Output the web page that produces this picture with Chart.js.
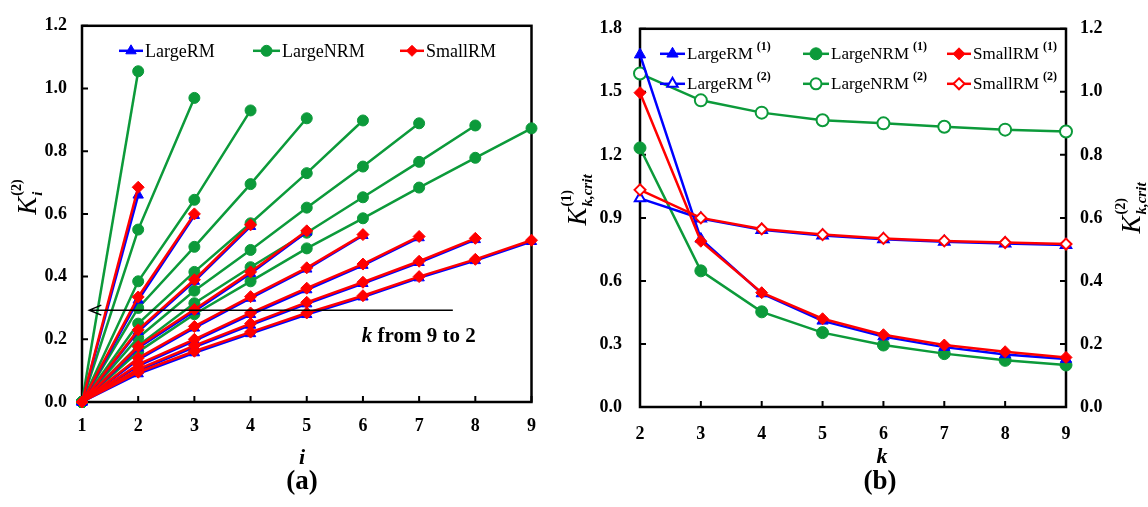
<!DOCTYPE html>
<html>
<head>
<meta charset="utf-8">
<script src="https://cdn.jsdelivr.net/npm/chart.js@4.4.1/dist/chart.umd.min.js"></script>
<style>
  html, body { margin: 0; padding: 0; background: #fff; }
  #wrap { position: relative; width: 1148px; height: 507px; background: #fff; }
  canvas { position: absolute; top: 0; }
  #chartA { left: 0; }
  #chartB { left: 550px; }
</style>
</head>
<body>
<div id="wrap">
  <canvas id="chartA" width="550" height="507"></canvas>
  <canvas id="chartB" width="598" height="507"></canvas>
</div>
<script>
// Panel (a): K_i^(2) against i, one line per k (k = 2..9)
const kValues = [2, 3, 4, 5, 6, 7, 8, 9];
const largeNRM_a = [
    [0, 1.055],
    [0, 0.55, 0.97],
    [0, 0.385, 0.645, 0.93],
    [0, 0.30, 0.495, 0.695, 0.905],
    [0, 0.25, 0.415, 0.57, 0.73, 0.898],
    [0, 0.205, 0.355, 0.485, 0.62, 0.751, 0.889],
    [0, 0.18, 0.315, 0.43, 0.54, 0.653, 0.766, 0.882],
    [0, 0.16, 0.28, 0.385, 0.49, 0.586, 0.684, 0.779, 0.873]
];
const smallRM_a = [
    [0, 0.685],
    [0, 0.335, 0.60],
    [0, 0.23, 0.39, 0.565],
    [0, 0.177, 0.295, 0.415, 0.546],
    [0, 0.14, 0.241, 0.336, 0.428, 0.534],
    [0, 0.12, 0.20, 0.284, 0.363, 0.44, 0.528],
    [0, 0.105, 0.18, 0.25, 0.318, 0.382, 0.449, 0.522],
    [0, 0.095, 0.162, 0.223, 0.284, 0.339, 0.40, 0.455, 0.516]
];
const largeRM_a = [
    [0, 0.66],
    [0, 0.325, 0.595],
    [0, 0.225, 0.385, 0.56],
    [0, 0.172, 0.29, 0.41, 0.542],
    [0, 0.135, 0.236, 0.331, 0.424, 0.531],
    [0, 0.115, 0.195, 0.279, 0.358, 0.436, 0.524],
    [0, 0.10, 0.175, 0.245, 0.313, 0.378, 0.445, 0.518],
    [0, 0.09, 0.157, 0.218, 0.279, 0.335, 0.396, 0.451, 0.512]
];

// Panel (b): critical values against k
const largeRM_1 = [1.677, 0.80, 0.54, 0.41, 0.335, 0.285, 0.25, 0.228];
const largeNRM_1 = [1.233, 0.648, 0.453, 0.354, 0.295, 0.254, 0.222, 0.20];
const smallRM_1 = [1.496, 0.789, 0.544, 0.42, 0.344, 0.295, 0.263, 0.236];
const largeRM_2 = [0.662, 0.598, 0.562, 0.544, 0.532, 0.524, 0.519, 0.514];
const largeNRM_2 = [1.058, 0.973, 0.934, 0.91, 0.90, 0.889, 0.88, 0.874];
const smallRM_2 = [0.689, 0.60, 0.565, 0.547, 0.535, 0.527, 0.522, 0.517];

const blue = "#0000ff";
const green = "#0c9a3a";
const red = "#ff0000";
const serif = '"Liberation Serif", "Times New Roman", serif';
const tickFont = { family: serif, size: 18, weight: 'bold' };

// draw a marker like Chart.js does (for the hand-drawn legends)
const drawMarker = (ctx, style, x, y, r, color, open) => {
    ctx.beginPath();
    if (style === 'triangle') {
        const h = r * Math.sqrt(3) / 2;
        ctx.moveTo(x, y - r);
        ctx.lineTo(x + h, y + r / 2);
        ctx.lineTo(x - h, y + r / 2);
        ctx.closePath();
    } else if (style === 'rectRot') {
        ctx.moveTo(x, y - r);
        ctx.lineTo(x + r, y);
        ctx.lineTo(x, y + r);
        ctx.lineTo(x - r, y);
        ctx.closePath();
    } else {
        ctx.arc(x, y, r, 0, Math.PI * 2);
    }
    ctx.fillStyle = open ? '#fff' : color;
    ctx.fill();
    ctx.strokeStyle = color;
    ctx.lineWidth = open ? 2 : 1;
    ctx.stroke();
};

const drawLegendItem = (ctx, item, x, y, fontSize) => {
    ctx.strokeStyle = item.color;
    ctx.lineWidth = 2.5;
    ctx.beginPath();
    ctx.moveTo(x, y);
    ctx.lineTo(x + item.lineLen, y);
    ctx.stroke();
    drawMarker(ctx, item.style, x + item.lineLen / 2, y, item.r, item.color, item.open);
    ctx.fillStyle = '#000';
    ctx.font = fontSize + 'px ' + serif;
    ctx.textAlign = 'left';
    ctx.textBaseline = 'middle';
    ctx.fillText(item.text, x + item.lineLen + 2, y + 1);
    if (item.sup) {
        const w = ctx.measureText(item.text).width;
        ctx.font = 'bold 12px ' + serif;
        ctx.fillText(item.sup, x + item.lineLen + 6 + w, y - 7);
    }
};

// rotated axis title K with superscript and subscript
const drawKLabel = (ctx, cx, cy, sup, sub) => {
    ctx.save();
    ctx.translate(cx, cy);
    ctx.rotate(-Math.PI / 2);
    const bigFont = 'italic 27px ' + serif;
    const supFont = 'bold 14px ' + serif;
    const subFont = 'italic bold 15px ' + serif;
    ctx.font = bigFont;
    const wK = ctx.measureText('K').width;
    ctx.font = supFont;
    const wSup = ctx.measureText(sup).width;
    ctx.font = subFont;
    const wSub = ctx.measureText(sub).width;
    const x0 = -(wK + 1 + Math.max(wSup, wSub)) / 2;
    ctx.fillStyle = '#000';
    ctx.textAlign = 'left';
    ctx.textBaseline = 'alphabetic';
    ctx.font = bigFont;
    ctx.fillText('K', x0, 9);
    ctx.font = supFont;
    ctx.fillText(sup, x0 + wK + 1, -6);
    ctx.font = subFont;
    ctx.fillText(sub, x0 + wK + 1, 15);
    ctx.restore();
};

// box round the plot area, with tick marks pointing inwards
const insideFrame = {
    id: 'insideFrame',
    beforeDatasetsDraw(chart) {
        const { ctx, chartArea: a } = chart;
        ctx.save();
        ctx.strokeStyle = '#000';
        ctx.lineWidth = 2.5;
        ctx.strokeRect(a.left, a.top, a.right - a.left, a.bottom - a.top);
        ctx.lineWidth = 2;
        ctx.beginPath();
        Object.values(chart.scales).forEach(s => {
            s.ticks.forEach(t => {
                const p = s.getPixelForValue(t.value);
                if (s.axis === 'x') {
                    ctx.moveTo(p, a.bottom);
                    ctx.lineTo(p, a.bottom - 6);
                } else if (s.position === 'left') {
                    ctx.moveTo(a.left, p);
                    ctx.lineTo(a.left + 6, p);
                } else {
                    ctx.moveTo(a.right, p);
                    ctx.lineTo(a.right - 6, p);
                }
            });
        });
        ctx.stroke();
        ctx.restore();
    }
};

const lineSet = (label, values, xStart, color, style, radius, order, open, axis) => ({
    label: label,
    data: values.map((v, i) => ({ x: xStart[i], y: v })),
    borderColor: color,
    backgroundColor: open ? '#fff' : color,
    pointBackgroundColor: open ? '#fff' : color,
    pointBorderColor: color,
    pointBorderWidth: open ? 2 : 1,
    pointStyle: style,
    pointRadius: radius,
    borderWidth: 2.5,
    tension: 0,
    clip: false,
    order: order,
    yAxisID: axis || 'y'
});

const iIndex = [1, 2, 3, 4, 5, 6, 7, 8, 9];

// Panel (a)
const datasetsA = [];
kValues.forEach((k, n) => {
    datasetsA.push(lineSet('SmallRM', smallRM_a[n], iIndex, red, 'rectRot', 6, 0));
    datasetsA.push(lineSet('LargeRM', largeRM_a[n], iIndex, blue, 'triangle', 6, 1));
    datasetsA.push(lineSet('LargeNRM', largeNRM_a[n], iIndex, green, 'circle', 5.5, 2));
});

const panelATexts = {
    id: 'panelATexts',
    afterDraw(chart) {
        const { ctx, chartArea: a, scales } = chart;
        ctx.save();
        drawKLabel(ctx, 27, 197, '(2)', 'i');

        ctx.fillStyle = '#000';
        ctx.textAlign = 'center';
        ctx.textBaseline = 'middle';
        ctx.font = 'italic bold 22px ' + serif;
        ctx.fillText('i', 302, 458);
        ctx.font = 'bold 27px ' + serif;
        ctx.fillText('(a)', 302, 482);

        // arrow: k from 9 to 2
        const ay = scales.y.getPixelForValue(0.293);
        const x1 = scales.x.getPixelForValue(7.6);
        const x0 = scales.x.getPixelForValue(1.13);
        ctx.strokeStyle = '#000';
        ctx.lineWidth = 1.5;
        ctx.beginPath();
        ctx.moveTo(x1, ay);
        ctx.lineTo(x0, ay);
        ctx.moveTo(x0 + 12, ay - 5);
        ctx.lineTo(x0, ay);
        ctx.lineTo(x0 + 12, ay + 5);
        ctx.stroke();

        const tx = scales.x.getPixelForValue(5.98);
        const ty = scales.y.getPixelForValue(0.21);
        ctx.textAlign = 'left';
        ctx.font = 'italic bold 21px ' + serif;
        ctx.fillText('k', tx, ty);
        const wk = ctx.measureText('k ').width;
        ctx.font = 'bold 21px ' + serif;
        ctx.fillText('from 9 to 2', tx + wk, ty);

        const legendA = [
            { dx: 37, text: 'LargeRM', color: blue, style: 'triangle', r: 6, lineLen: 24 },
            { dx: 171, text: 'LargeNRM', color: green, style: 'circle', r: 5.5, lineLen: 27 },
            { dx: 318, text: 'SmallRM', color: red, style: 'rectRot', r: 5.5, lineLen: 24 }
        ];
        legendA.forEach(item => drawLegendItem(ctx, item, a.left + item.dx, a.top + 25, 18));
        ctx.restore();
    }
};

new Chart(document.getElementById('chartA'), {
    type: 'line',
    data: { datasets: datasetsA },
    options: {
        responsive: false,
        animation: false,
        devicePixelRatio: 1,
        layout: { autoPadding: false, padding: { left: 0, top: 8, right: 18, bottom: 0 } },
        plugins: { legend: { display: false }, tooltip: { enabled: false } },
        scales: {
            x: {
                type: 'linear', min: 1, max: 9,
                grid: { display: false, drawTicks: false },
                border: { display: false },
                ticks: { stepSize: 1, padding: 14, color: '#000', font: tickFont },
                afterFit: (s) => { s.height = 105; }
            },
            y: {
                min: 0, max: 1.2,
                grid: { display: false, drawTicks: false },
                border: { display: false },
                ticks: { stepSize: 0.2, padding: 15, color: '#000', font: tickFont,
                    callback: (v) => v.toFixed(1) },
                afterFit: (s) => { s.width = 82; }
            }
        }
    },
    plugins: [insideFrame, panelATexts]
});

// Panel (b)
const datasetsB = [
    lineSet('SmallRM (1)', smallRM_1, kValues, red, 'rectRot', 6, 0, false, 'y'),
    lineSet('SmallRM (2)', smallRM_2, kValues, red, 'rectRot', 5.5, 0, true, 'y2'),
    lineSet('LargeRM (1)', largeRM_1, kValues, blue, 'triangle', 6.5, 1, false, 'y'),
    lineSet('LargeRM (2)', largeRM_2, kValues, blue, 'triangle', 6, 1, true, 'y2'),
    lineSet('LargeNRM (1)', largeNRM_1, kValues, green, 'circle', 6, 2, false, 'y'),
    lineSet('LargeNRM (2)', largeNRM_2, kValues, green, 'circle', 6, 2, true, 'y2')
];

const panelBTexts = {
    id: 'panelBTexts',
    afterDraw(chart) {
        const { ctx, chartArea: a } = chart;
        ctx.save();
        drawKLabel(ctx, 27, 200, '(1)', 'k,crit');
        drawKLabel(ctx, 581, 208, '(2)', 'k,crit');

        ctx.fillStyle = '#000';
        ctx.textAlign = 'center';
        ctx.textBaseline = 'middle';
        ctx.font = 'italic bold 22px ' + serif;
        ctx.fillText('k', 332, 457);
        ctx.font = 'bold 27px ' + serif;
        ctx.fillText('(b)', 330, 482);

        const legendB = [
            { dx: 20, dy: 25, text: 'LargeRM', sup: '(1)', color: blue, style: 'triangle', r: 6.5, lineLen: 25 },
            { dx: 163, dy: 25, text: 'LargeNRM', sup: '(1)', color: green, style: 'circle', r: 6, lineLen: 26 },
            { dx: 307, dy: 25, text: 'SmallRM', sup: '(1)', color: red, style: 'rectRot', r: 6, lineLen: 24 },
            { dx: 20, dy: 55, text: 'LargeRM', sup: '(2)', color: blue, style: 'triangle', r: 6, lineLen: 25, open: true },
            { dx: 163, dy: 55, text: 'LargeNRM', sup: '(2)', color: green, style: 'circle', r: 5.5, lineLen: 26, open: true },
            { dx: 307, dy: 55, text: 'SmallRM', sup: '(2)', color: red, style: 'rectRot', r: 5.5, lineLen: 24, open: true }
        ];
        legendB.forEach(item => drawLegendItem(ctx, item, a.left + item.dx, a.top + item.dy, 17));
        ctx.restore();
    }
};

new Chart(document.getElementById('chartB'), {
    type: 'line',
    data: { datasets: datasetsB },
    options: {
        responsive: false,
        animation: false,
        devicePixelRatio: 1,
        layout: { autoPadding: false, padding: { left: 0, top: 8, right: 0, bottom: 0 } },
        plugins: { legend: { display: false }, tooltip: { enabled: false } },
        scales: {
            x: {
                type: 'linear', min: 2, max: 9,
                grid: { display: false, drawTicks: false },
                border: { display: false },
                ticks: { stepSize: 1, padding: 17, color: '#000', font: tickFont },
                afterFit: (s) => { s.height = 100; }
            },
            y: {
                position: 'left', min: 0, max: 1.8,
                grid: { display: false, drawTicks: false },
                border: { display: false },
                ticks: { stepSize: 0.3, padding: 18, color: '#000', font: tickFont,
                    callback: (v) => v.toFixed(1) },
                afterFit: (s) => { s.width = 90; }
            },
            y2: {
                position: 'right', min: 0, max: 1.2,
                grid: { display: false, drawTicks: false },
                border: { display: false },
                ticks: { stepSize: 0.2, padding: 14, color: '#000', font: tickFont,
                    callback: (v) => v.toFixed(1) },
                afterFit: (s) => { s.width = 82; }
            }
        }
    },
    plugins: [insideFrame, panelBTexts]
});
</script>
</body>
</html>
